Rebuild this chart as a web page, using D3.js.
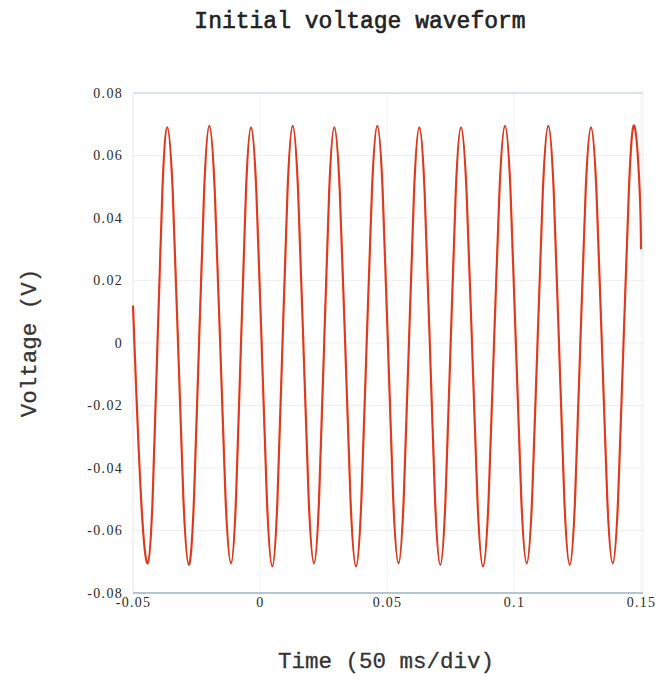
<!DOCTYPE html>
<html><head><meta charset="utf-8">
<script src="https://cdn.jsdelivr.net/npm/d3@7"></script>
<style>
html,body{margin:0;padding:0;background:#fff;}
svg{display:block;}
</style></head>
<body>
<script>
// ---- data ----
const title = "Initial voltage waveform";
const xLabel = "Time (50 ms/div)";
const yLabel = "Voltage (V)";
const xTicks = [-0.05, 0, 0.05, 0.1, 0.15];
const xTickLabels = ["-0.05", "0", "0.05", "0.1", "0.15"];
const yTicks = [0.08, 0.06, 0.04, 0.02, 0, -0.02, -0.04, -0.06, -0.08];
const yTickLabels = ["0.08", "0.06", "0.04", "0.02", "0", "-0.02", "-0.04", "-0.06", "-0.08"];

// waveform samples: time (s)
const timeS = [
 -0.05000, -0.04945, -0.04683, -0.04421,
 -0.04228, -0.04036, -0.03843, -0.03650,
 -0.03438, -0.03227, -0.03015, -0.02803,
 -0.02601, -0.02400, -0.02198, -0.01996,
 -0.01783, -0.01569, -0.01356, -0.01142,
 -0.00945, -0.00748, -0.00551, -0.00354,
 -0.00145,  0.00065,  0.00274,  0.00484,
  0.00685,  0.00886,  0.01086,  0.01287,
  0.01497,  0.01707,  0.01916,  0.02126,
  0.02326,  0.02526,  0.02725,  0.02925,
  0.03139,  0.03353,  0.03566,  0.03780,
  0.03990,  0.04199,  0.04409,  0.04618,
  0.04827,  0.05036,  0.05244,  0.05453,
  0.05658,  0.05863,  0.06067,  0.06272,
  0.06479,  0.06685,  0.06892,  0.07098,
  0.07302,  0.07506,  0.07709,  0.07913,
  0.08130,  0.08347,  0.08563,  0.08780,
  0.08997,  0.09213,  0.09430,  0.09646,
  0.09860,  0.10073,  0.10287,  0.10500,
  0.10713,  0.10925,  0.11138,  0.11350,
  0.11561,  0.11772,  0.11982,  0.12193,
  0.12403,  0.12612,  0.12822,  0.13031,
  0.13245,  0.13459,  0.13672,  0.13886,
  0.14099,  0.14311,  0.14524,  0.14736,
  0.14946,  0.15000
];
// waveform samples: voltage (V)
const voltageV = [
  0.0120,  0.0000, -0.0495, -0.0705,
 -0.0498,  0.0000,  0.0488,  0.0690,
  0.0488,  0.0000, -0.0500, -0.0710,
 -0.0502,  0.0000,  0.0491,  0.0695,
  0.0491,  0.0000, -0.0498, -0.0705,
 -0.0498,  0.0000,  0.0488,  0.0690,
  0.0488,  0.0000, -0.0506, -0.0715,
 -0.0506,  0.0000,  0.0491,  0.0695,
  0.0491,  0.0000, -0.0498, -0.0705,
 -0.0498,  0.0000,  0.0488,  0.0690,
  0.0488,  0.0000, -0.0506, -0.0715,
 -0.0506,  0.0000,  0.0491,  0.0695,
  0.0491,  0.0000, -0.0498, -0.0705,
 -0.0498,  0.0000,  0.0488,  0.0690,
  0.0488,  0.0000, -0.0502, -0.0710,
 -0.0502,  0.0000,  0.0488,  0.0690,
  0.0488,  0.0000, -0.0506, -0.0715,
 -0.0506,  0.0000,  0.0491,  0.0695,
  0.0491,  0.0000, -0.0498, -0.0705,
 -0.0498,  0.0000,  0.0491,  0.0695,
  0.0491,  0.0000, -0.0502, -0.0710,
 -0.0502,  0.0000,  0.0488,  0.0690,
  0.0488,  0.0000, -0.0498, -0.0705,
 -0.0498,  0.0000,  0.0491,  0.0695,
  0.0491,  0.0300
];

// ---- drawing ----
const W = 662, H = 686;
const mLeft = 133, mRight = 641, mTop = 93, mBottom = 593;

const svg = d3.select("body").append("svg").attr("width", W).attr("height", H);

const x = d3.scaleLinear().domain([-0.05, 0.15]).range([mLeft, mRight]);
const y = d3.scaleLinear().domain([-0.08, 0.08]).range([mBottom, mTop]);

// grid
svg.append("g").selectAll("line").data(yTicks.filter(d => d !== 0.08 && d !== -0.08)).join("line")
  .attr("x1", mLeft).attr("x2", mRight + 2)
  .attr("y1", d => y(d)).attr("y2", d => y(d))
  .attr("stroke", "#eef0f1").attr("stroke-width", 1);
svg.append("g").selectAll("line").data(xTicks).join("line")
  .attr("x1", d => x(d)).attr("x2", d => x(d))
  .attr("y1", mTop).attr("y2", mBottom)
  .attr("stroke", "#f1f2f3").attr("stroke-width", 1);
// frame
svg.append("line").attr("x1", mLeft).attr("x2", mRight + 2).attr("y1", y(0.08)).attr("y2", y(0.08))
  .attr("stroke", "#c9d8e6").attr("stroke-width", 1.5);
svg.append("line").attr("x1", mRight + 2).attr("x2", mRight + 2).attr("y1", mTop).attr("y2", mBottom)
  .attr("stroke", "#eaeced").attr("stroke-width", 1);
svg.append("line").attr("x1", mLeft).attr("x2", mLeft).attr("y1", mTop).attr("y2", mBottom)
  .attr("stroke", "#eef0f1").attr("stroke-width", 1);

// waveform
const pts = timeS.map((t, i) => [t, voltageV[i]]);
const line = d3.line().x(d => x(d[0])).y(d => y(d[1])).curve(d3.curveNatural);
svg.append("path").attr("d", line(pts)).attr("fill", "none")
  .attr("stroke", "#e8401f").attr("stroke-width", 2.2).attr("stroke-linejoin", "round");
svg.append("path").attr("d", line(pts)).attr("fill", "none")
  .attr("stroke", "#c42f22").attr("stroke-width", 0.8).attr("stroke-opacity", 0.6);

// bottom axis line
svg.append("line").attr("x1", mLeft).attr("x2", mRight + 2).attr("y1", y(-0.08)).attr("y2", y(-0.08))
  .attr("stroke", "#b3c6d4").attr("stroke-width", 2);

// axes (labels only)
const yAxis = d3.axisLeft(y).tickValues(yTicks).tickFormat((d, i) => yTickLabels[i]).tickSize(0).tickPadding(10);
const gy = svg.append("g").attr("transform", `translate(${mLeft},0)`).call(yAxis);
gy.select(".domain").remove();
gy.selectAll("text").attr("font-family", "'Liberation Serif', serif").attr("font-size", 14)
  .attr("fill", "#2a2a2a").attr("letter-spacing", "1.3px");

const xAxis = d3.axisBottom(x).tickValues(xTicks).tickFormat((d, i) => xTickLabels[i]).tickSize(0).tickPadding(4);
const gx = svg.append("g").attr("transform", `translate(0,${mBottom})`).call(xAxis);
gx.select(".domain").remove();
gx.selectAll("text").attr("font-family", "'Liberation Serif', serif").attr("font-size", 14)
  .attr("fill", "#2a2a2a").attr("letter-spacing", "1.3px");

// titles
svg.append("text").attr("x", 360).attr("y", 28).attr("text-anchor", "middle")
  .attr("font-family", "'Liberation Mono', monospace").attr("font-size", 23)
  .attr("fill", "#222").attr("stroke", "#222").attr("stroke-width", 0.6).text(title);
svg.append("text").attr("x", 386).attr("y", 668).attr("text-anchor", "middle")
  .attr("font-family", "'Liberation Mono', monospace").attr("font-size", 22.5)
  .attr("fill", "#333").attr("stroke", "#333").attr("stroke-width", 0.3).text(xLabel);
svg.append("text").attr("transform", "translate(36,343) rotate(-90)").attr("text-anchor", "middle")
  .attr("font-family", "'Liberation Mono', monospace").attr("font-size", 22.5)
  .attr("fill", "#333").attr("stroke", "#333").attr("stroke-width", 0.3).text(yLabel);
</script>
</body></html>
